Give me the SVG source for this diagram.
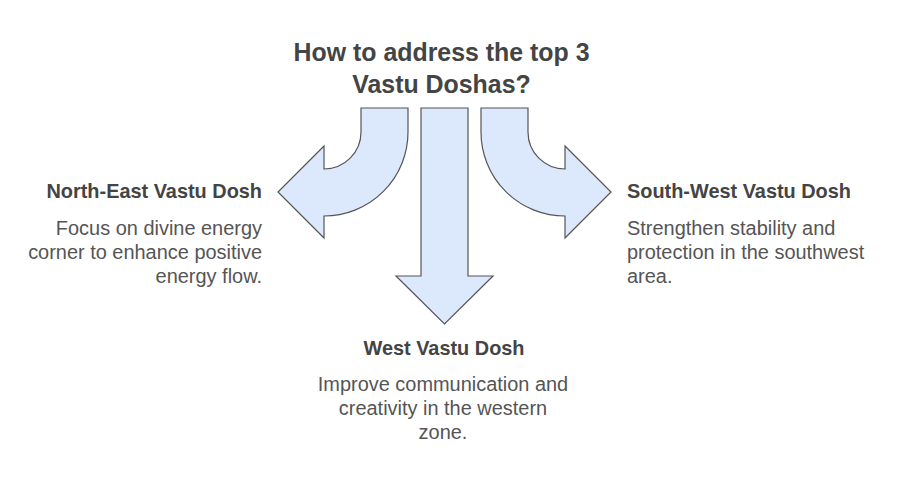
<svg xmlns="http://www.w3.org/2000/svg" width="901" height="494" viewBox="0 0 901 494">
<style>
.arrow{fill:#dce8fc;stroke:#555;stroke-width:1.2;stroke-linejoin:miter}
.title{font-family:"Liberation Sans",Arial,sans-serif;font-weight:bold;font-size:24.9px;fill:#444}
.head{font-family:"Liberation Sans",Arial,sans-serif;font-weight:bold;font-size:19.9px;fill:#444}
.body{font-family:"Liberation Sans",Arial,sans-serif;font-size:19.95px;fill:#555}
</style>
<rect width="901" height="494" fill="#fff"/>
<g id="title">
<text class="title" x="441.5" y="61" text-anchor="middle">How to address the top 3</text>
<text class="title" x="441.5" y="93" text-anchor="middle">Vastu Doshas?</text>
</g>
<g id="connectors">
<path class="arrow" d="M408,108 L408,132 A84,84 0 0 1 324,216 L324,238 L278,192 L324,146 L324,169 A37,37 0 0 0 361,132 L361,108 Z"/>
<path class="arrow" d="M421,108 L468,108 L468,276 L493,276 L444.5,324 L396,276 L421,276 Z"/>
<path class="arrow" d="M481,108 L481,132 A84,84 0 0 0 565,216 L565,238 L611,192 L565,146 L565,169 A37,37 0 0 1 528,132 L528,108 Z"/>
</g>
<g id="node-ne">
<text class="head" x="262" y="198" text-anchor="end">North-East Vastu Dosh</text>
<text class="body" x="262" y="235" text-anchor="end">Focus on divine energy</text>
<text class="body" x="262" y="259" text-anchor="end">corner to enhance positive</text>
<text class="body" x="262" y="283" text-anchor="end">energy flow.</text>
</g>
<g id="node-sw">
<text class="head" x="627" y="198">South-West Vastu Dosh</text>
<text class="body" x="627" y="235">Strengthen stability and</text>
<text class="body" x="627" y="259">protection in the southwest</text>
<text class="body" x="627" y="283">area.</text>
</g>
<g id="node-w">
<text class="head" x="444" y="355" text-anchor="middle">West Vastu Dosh</text>
<text class="body" x="443" y="391" text-anchor="middle">Improve communication and</text>
<text class="body" x="443" y="415" text-anchor="middle">creativity in the western</text>
<text class="body" x="443" y="439" text-anchor="middle">zone.</text>
</g>
</svg>
